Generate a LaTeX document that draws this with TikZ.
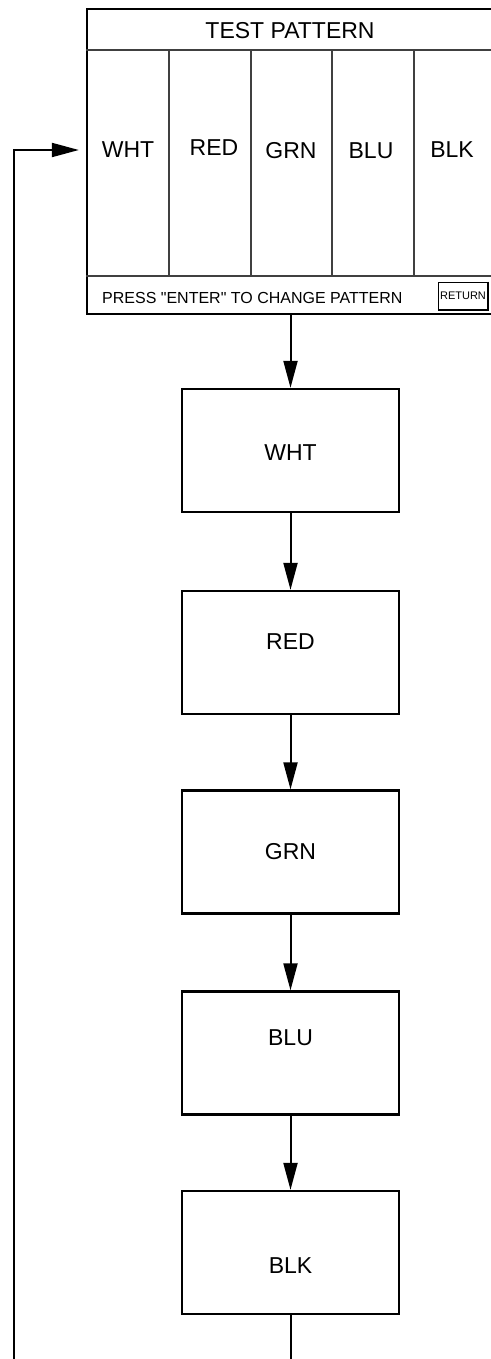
\documentclass[tikz,border=0pt]{standalone}
\usepackage{fontspec}
\setmainfont{Liberation Sans}
\usetikzlibrary{arrows.meta}

\begin{document}
\begin{tikzpicture}[x=1pt, y=-1pt,
    big/.style={font=\fontsize{23pt}{27pt}\selectfont},
    frame/.style={draw, line width=2.3pt},
    thin/.style={draw=black!75, line width=1.3pt},
    stage/.style={frame, big, minimum width=217pt, minimum height=123pt, inner sep=0pt},
    lift/.style={text depth=#1},
    sink/.style={text height=#1},
    arr/.style={line width=2pt, -{Triangle[length=27pt, width=14pt]}}]
  \useasboundingbox (0,0) rectangle (490,1359);

  % menu screen
  \node[frame, minimum width=405pt, minimum height=305pt, inner sep=0pt] (panel) at (289.5,161.5) {};
  \draw[thin] (panel.west |- 0,50) -- (panel.east |- 0,50);
  \draw[thin] (panel.west |- 0,276) -- (panel.east |- 0,276);
  \foreach \xx in {169,251,332,414}
    \draw[thin] (\xx,50) -- (\xx,276);
  \node[big] (ttl) at (290,31) {TEST PATTERN};
  \node[big] (cWHT) at (128,150) {WHT};
  \node[big] (cRED) at (214,148) {RED};
  \node[big] (cGRN) at (291,151) {GRN};
  \node[big] (cBLU) at (371,151) {BLU};
  \node[big] (cBLK) at (452,150) {BLK};
  \node[font=\fontsize{16pt}{19pt}\selectfont, anchor=west, inner sep=0pt] (msg) at (102,298)
    {PRESS \textquotedbl ENTER\textquotedbl{} TO CHANGE PATTERN};
  \node[draw, line width=0.9pt, font=\fontsize{11pt}{13pt}\selectfont, minimum width=50pt, minimum height=28pt, inner sep=0pt] (ret) at (463,296) {RETURN};
  \draw[line width=2pt] (ret.north east) -- (ret.south east) -- (ret.south west);

  % pattern steps
  \node[stage, sink=20pt] (bWHT) at (290.5,450.5) {WHT};
  \node[stage, lift=22pt] (bRED) at (290.5,652.5) {RED};
  \node[stage] (bGRN) at (290.5,852) {GRN};
  \node[stage, lift=30pt] (bBLU) at (290.5,1053) {BLU};
  \node[stage, sink=42pt] (bBLK) at (290.5,1252.5) {BLK};

  \draw[arr] (panel.south -| bWHT.north) -- (bWHT.north);
  \draw[arr] (bWHT) -- (bRED);
  \draw[arr] (bRED) -- (bGRN);
  \draw[arr] (bGRN) -- (bBLU);
  \draw[arr] (bBLU) -- (bBLK);

  % loop back
  \coordinate (outB) at (290.5,1359);
  \coordinate (outL) at (14,1359);
  \draw[line width=2pt] (bBLK.south) -- (outB);
  \draw[arr, shorten >=7pt] (outL) |- (panel.west |- cWHT);
\end{tikzpicture}
\end{document}
